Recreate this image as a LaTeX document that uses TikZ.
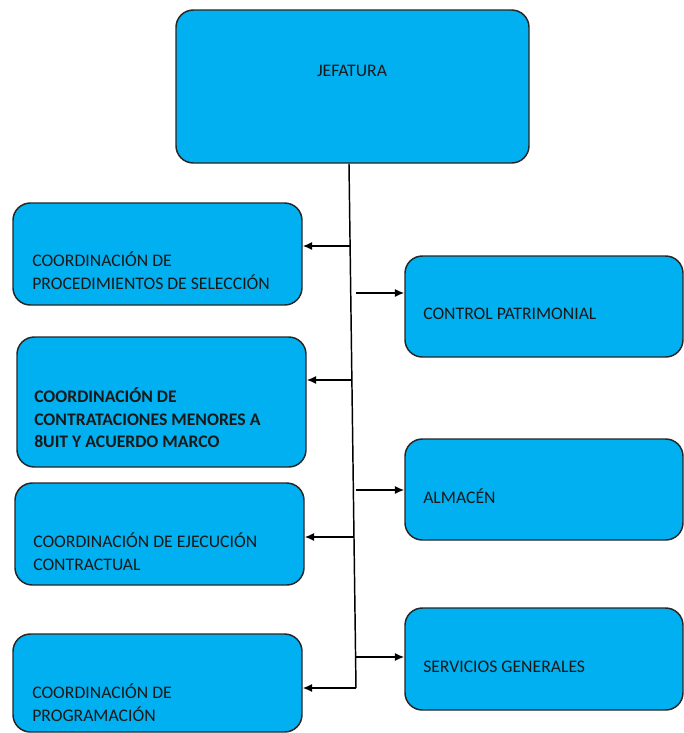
\documentclass[tikz,border=0pt]{standalone}
\usepackage{fontspec}
\setmainfont{Carlito}
\usetikzlibrary{arrows.meta}
\definecolor{boxblue}{HTML}{00B0F0}
\tikzset{
  orgbox/.style={draw=black!85, line width=1.1pt, fill=boxblue, rounded corners=13pt, inner sep=0pt},
  boxtext/.style={anchor=north west, inner sep=0pt, align=left, font=\fontsize{13.25}{17.25}\selectfont, text=black!90},
  conn/.style={line width=1.1pt, black},
  arr/.style={conn, -{Latex[length=7pt,width=6pt]}}
}
\newcommand{\fs}{\rule{0pt}{12.5pt}}
\begin{document}
\begin{tikzpicture}[x=0.75pt,y=-0.75pt]
\useasboundingbox (0,0) rectangle (684,733);
% boxes
\node[orgbox, minimum width=353*0.75pt, minimum height=153*0.75pt] (jef) at (352.5,86.5) {};
\node[orgbox, minimum width=289*0.75pt, minimum height=102*0.75pt] (b1) at (157.5,254) {};
\node[orgbox, minimum width=289*0.75pt, minimum height=130*0.75pt] (b2) at (161.5,402) {};
\node[orgbox, minimum width=289*0.75pt, minimum height=102*0.75pt] (b3) at (159.5,534) {};
\node[orgbox, minimum width=289*0.75pt, minimum height=98*0.75pt] (b4) at (157.5,683) {};
\node[orgbox, minimum width=278*0.75pt, minimum height=101*0.75pt] (r1) at (544,306.5) {};
\node[orgbox, minimum width=278*0.75pt, minimum height=101*0.75pt] (r2) at (544,489.5) {};
\node[orgbox, minimum width=278*0.75pt, minimum height=102*0.75pt] (r3) at (544,659) {};
% texts
\node[boxtext, anchor=north] (tj) at (352,59.5) {\fs JEFATURA};
\node[boxtext] (t1) at (32,249.5) {\fs COORDINACIÓN DE\\PROCEDIMIENTOS DE SELECCIÓN};
\node[boxtext, font=\fontsize{13.25}{17}\selectfont\bfseries] (t2) at (34,385.5) {\fs COORDINACIÓN DE\\CONTRATACIONES MENORES A\\8UIT Y ACUERDO MARCO};
\node[boxtext] (t3) at (33,531) {\fs COORDINACIÓN DE EJECUCIÓN\\CONTRACTUAL};
\node[boxtext] (t4) at (32,682) {\fs COORDINACIÓN DE\\PROGRAMACIÓN};
\node[boxtext] (tr1) at (423,303) {\fs CONTROL PATRIMONIAL};
\node[boxtext] (tr2) at (423,487) {\fs ALMACÉN};
\node[boxtext] (tr3) at (423,656) {\fs SERVICIOS GENERALES};
% trunk
\coordinate (top) at (349,163);
\coordinate (bot) at (356,688);
\coordinate (l1) at (350.1,246);
\coordinate (l2) at (352,380);
\coordinate (l3) at (354.1,537);
\coordinate (r1s) at (356,293);
\coordinate (r2s) at (356,490);
\coordinate (r3s) at (356,657);
\draw[conn] (jef.south -| top) -- (bot);
\draw[arr] (l1) -- (l1 -| b1.east);
\draw[arr] (l2) -- (l2 -| b2.east);
\draw[arr] (l3) -- (l3 -| b3.east);
\draw[arr] (bot) -- (bot -| b4.east);
\draw[arr] (r1s) -- (r1s -| r1.west);
\draw[arr] (r2s) -- (r2s -| r2.west);
\draw[arr] (r3s) -- (r3s -| r3.west);
\end{tikzpicture}
\end{document}
